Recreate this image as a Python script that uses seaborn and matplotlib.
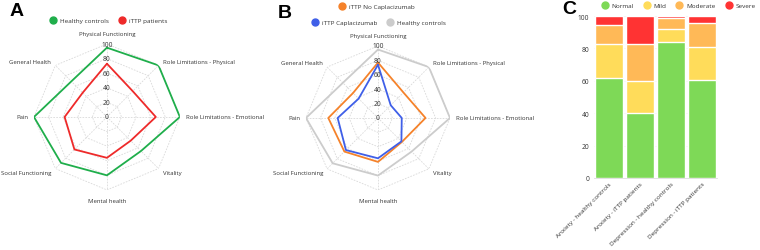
import numpy as np
import pandas as pd
import seaborn as sns
import matplotlib.pyplot as plt
from matplotlib.lines import Line2D

sns.set_style('white')
plt.rcParams['font.family'] = ['Open Sans', 'DejaVu Sans']
plt.rcParams['text.color'] = '#333333'

# SF-36 domains
domains = ['Physical Functioning', 'Role Limitations - Physical', 'Role Limitations - Emotional',
           'Vitality', 'Mental health', 'Social Functioning', 'Pain', 'General Health']

healthy = [95, 100, 100, 66, 80, 89, 100, 69]
ittp = [73, 50, 67, 46, 56, 63, 58, 47]
no_capla = [77, 50, 66, 47, 61, 66, 69, 49]
capla = [74, 25, 33, 46, 56, 63, 56, 38]

# HADS groups
groups = ['Anxiety - healthy controls', 'Anxiety - iTTP patients',
          'Depression - healthy controls', 'Depression - iTTP patients']
levels = ['Normal', 'Mild', 'Moderate', 'Severe']
normal = [62, 40, 84, 60.5]
mild = [21, 20, 8, 20.5]
moderate = [11.5, 23, 6.5, 15]
severe = [5.5, 17, 1.5, 4]

c_green = '#1fae4b'
c_red = '#ee2a2a'
c_orange = '#f5822a'
c_blue = '#3f5fe8'
c_gray = '#cccccc'
level_colors = ['#7ed957', '#ffdc5a', '#ffb957', '#ff3333']

fig = plt.figure(figsize=(7.6, 2.51), dpi=100)

angles = np.linspace(0, 2 * np.pi, len(domains), endpoint=False)


def radar(rect, series):
    ax = fig.add_axes(rect, projection='polar')
    ax.set_theta_offset(np.pi / 2)
    ax.set_theta_direction(-1)
    ax.set_ylim(0, 100)
    ax.grid(False)
    ax.spines['polar'].set_visible(False)
    ax.set_facecolor('none')
    loop = np.append(angles, angles[0])
    # octagon grid
    for r in [20, 40, 60, 80, 100]:
        ax.plot(loop, [r] * len(loop), color='#d9d9d9', lw=0.6, ls=(0, (2, 1.5)), zorder=1)
    for a in angles:
        ax.plot([a, a], [0, 100], color='#d9d9d9', lw=0.6, ls=(0, (2, 1.5)), zorder=1)
    for vals, col in series:
        df = pd.DataFrame({'theta': loop, 'r': list(vals) + [vals[0]]})
        sns.lineplot(data=df, x='theta', y='r', sort=False, estimator=None,
                     color=col, lw=1.3, ax=ax, zorder=3)
    ax.set_xticks([])
    ax.set_yticks([])
    ax.set_xlabel('')
    ax.set_ylabel('')
    ax.set_ylim(0, 100)
    for r in [0, 20, 40, 60, 80, 100]:
        ax.text(0, r, str(r), ha='center', va='center', fontsize=4.8, color='#333333', zorder=4)
    for a, name in zip(angles, domains):
        s = np.sin(a)
        if s > 0.1:
            ha, rr = 'left', 108
        elif s < -0.1:
            ha, rr = 'right', 108
        else:
            ha, rr = 'center', 115
        ax.text(a, rr, name, ha=ha, va='center', fontsize=4.3, color='#333333', clip_on=False)
    return ax


radar([0.0447, 0.239, 0.192, 0.582], [(healthy, c_green), (ittp, c_red)])
radar([0.4026, 0.239, 0.1895, 0.574], [(healthy, c_gray), (no_capla, c_orange), (capla, c_blue)])


def dot(col, label):
    return Line2D([], [], marker='o', ls='', color=col, markersize=5, label=label)


leg_kw = dict(frameon=False, fontsize=4.6, handletextpad=0.1, columnspacing=1.0, borderpad=0)
fig.legend(handles=[dot(c_green, 'Healthy controls'), dot(c_red, 'iTTP patients')],
           loc='center', bbox_to_anchor=(107 / 760, 1 - 21 / 251), ncol=2, **leg_kw)
fig.legend(handles=[dot(c_orange, 'iTTP No Caplacizumab')],
           loc='center', bbox_to_anchor=(375 / 760, 1 - 7 / 251), ncol=1, **leg_kw)
fig.legend(handles=[dot(c_blue, 'iTTP Caplacizumab'), dot(c_gray, 'Healthy controls')],
           loc='center', bbox_to_anchor=(377 / 760, 1 - 23 / 251), ncol=2, **leg_kw)

# stacked bars
axc = fig.add_axes([0.781, 0.287, 0.163, 0.645])
parts = [normal, mild, moderate, severe]
cum = np.cumsum(np.array(parts), axis=0)
for i in range(len(levels) - 1, -1, -1):
    df = pd.DataFrame({'group': groups, 'value': cum[i]})
    sns.barplot(data=df, x='group', y='value', color=level_colors[i], width=0.9,
                saturation=1, ax=axc, zorder=2)
axc.set_ylim(0, 100)
axc.set_xlim(-0.5, 3.5)
axc.set_yticks([0, 20, 40, 60, 80, 100])
axc.tick_params(axis='y', labelsize=4.8, length=0, pad=3, labelcolor='#333333')
axc.tick_params(axis='x', labelsize=4.6, length=0, pad=2, labelcolor='#333333')
axc.set_xticks(range(len(groups)))
axc.set_xticklabels(groups, rotation=45, ha='right', rotation_mode='anchor')
axc.set_xlabel('')
axc.set_ylabel('')
axc.grid(axis='y', color='#eeeeee', lw=0.5, zorder=0)
sns.despine(ax=axc, left=True)
axc.spines['bottom'].set_color('#dddddd')
axc.spines['bottom'].set_linewidth(0.6)
fig.legend(handles=[dot(level_colors[i], levels[i]) for i in range(4)],
           loc='center', bbox_to_anchor=(677 / 760, 1 - 6 / 251), ncol=4, **leg_kw)

# panel letters
for x, y, t in [(10, 12, 'A'), (278, 13, 'B'), (562, 10, 'C')]:
    fig.text(x / 760, 1 - y / 251, t, fontsize=14, fontweight='bold',
             family='Liberation Sans', ha='left', va='center', color='black')

fig.savefig('out.png', dpi=100, facecolor='white')
